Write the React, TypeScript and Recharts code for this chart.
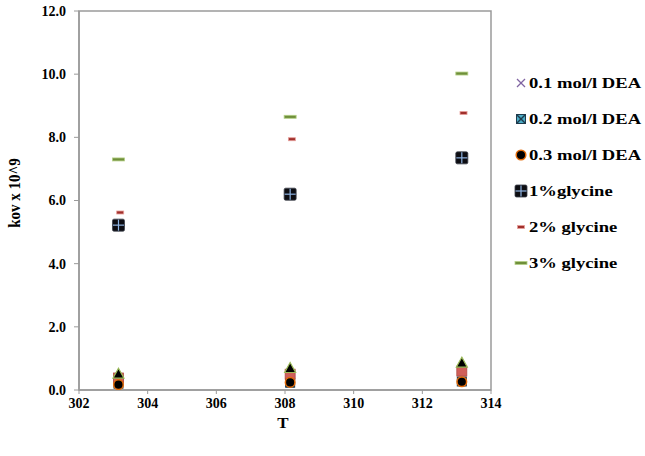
import React from 'react';
import { ScatterChart, Scatter, XAxis, YAxis, ReferenceArea, Legend } from 'recharts';

const temps = [303.15, 308.15, 313.15];
const temps2 = [303.2, 308.2, 313.2];
const dea01 = [0.2, 0.22, 0.26];
const dea02 = [0.2, 0.23, 0.27];
const dea03 = [0.17, 0.24, 0.26];
const gly1 = [5.22, 6.2, 7.35];
const gly2 = [5.62, 7.94, 8.77];
const gly3 = [7.3, 8.65, 10.02];
const extraTri = [0.5, 0.68, 0.85];
const extraSq = [0.38, 0.5, 0.6];
const xTicks = [302, 304, 306, 308, 310, 312, 314];
const yTicks = [0, 2, 4, 6, 8, 10, 12];
const legendNames = ['0.1 mol/l DEA', '0.2 mol/l DEA', '0.3 mol/l DEA', '1%glycine', '2% glycine', '3% glycine'];

const toPts = (xs: number[], ys: number[]) => xs.map((x, i) => ({ x, y: ys[i] }));

const FONT = '"Liberation Serif", "Times New Roman", serif';

type MP = { cx: number; cy: number };
const XMark = ({ cx, cy }: MP) => (
  <g stroke="#8064a2" strokeWidth={1.3}>
    <line x1={cx - 4} y1={cy - 4} x2={cx + 4} y2={cy + 4} />
    <line x1={cx - 4} y1={cy + 4} x2={cx + 4} y2={cy - 4} />
  </g>
);
const BoxX = ({ cx, cy }: MP) => (
  <g>
    <rect x={cx - 4.5} y={cy - 4.5} width={9} height={9} fill="#4bacc6" stroke="#1f3b4d" strokeWidth={1} />
    <line x1={cx - 4} y1={cy - 4} x2={cx + 4} y2={cy + 4} stroke="#1f3b4d" strokeWidth={1.5} />
    <line x1={cx - 4} y1={cy + 4} x2={cx + 4} y2={cy - 4} stroke="#1f3b4d" strokeWidth={1.5} />
  </g>
);
const Circ = ({ cx, cy }: MP) => <circle cx={cx} cy={cy} r={4.8} fill="#000" stroke="#e46c0a" strokeWidth={1.5} />;
const GlySq = ({ cx, cy }: MP) => (
  <g>
    <rect x={cx - 6} y={cy - 6} width={12} height={12} rx={1.5} fill="#0d0d12" stroke="#3a3f4a" strokeWidth={0.8} />
    <line x1={cx} y1={cy - 5.5} x2={cx} y2={cy + 5.5} stroke="#8fb4e3" strokeWidth={1.2} />
    <line x1={cx - 5.5} y1={cy} x2={cx + 5.5} y2={cy} stroke="#8fb4e3" strokeWidth={1.2} />
  </g>
);
const Dash2 = ({ cx, cy }: MP) => <rect x={cx - 3.5} y={cy - 1.5} width={7} height={3} fill="#a0302c" stroke="#e8a09c" strokeWidth={0.8} />;
const Dash3 = ({ cx, cy }: MP) => <rect x={cx - 6} y={cy - 1.5} width={12} height={3} fill="#6f8f3a" stroke="#b5d087" strokeWidth={0.8} />;
const Tri = ({ cx, cy }: MP) => (
  <polygon points={`${cx},${cy - 6} ${cx + 5.5},${cy + 4} ${cx - 5.5},${cy + 4}`} fill="#000" stroke="#9bbb59" strokeWidth={1.2} />
);
const RedSq = ({ cx, cy }: MP) => <rect x={cx - 5} y={cy - 5} width={10} height={10} fill="#d0605a" stroke="#b04a45" strokeWidth={0.8} />;

const legendIcons = [XMark, BoxX, Circ, GlySq, Dash2, Dash3];

const LegendContent = () => (
  <div style={{ fontFamily: FONT, fontWeight: 'bold', fontSize: 15, color: '#000' }}>
    {legendNames.map((n, i) => {
      const Icon = legendIcons[i];
      return (
        <div key={n} style={{ height: 36, display: 'flex', alignItems: 'center' }}>
          <svg width={14} height={14} style={{ display: 'block' }}>
            <Icon cx={7} cy={7} />
          </svg>
          <span style={{ display: 'inline-block', marginLeft: 1, transform: 'scaleX(1.24)', transformOrigin: 'left center', whiteSpace: 'nowrap' }}>{n}</span>
        </div>
      );
    })}
  </div>
);

const shapeOf = (C: React.ComponentType<MP>) => (p: any) => <C cx={p.cx} cy={p.cy} />;

export default function App() {
  const tickStyle = { fontFamily: FONT, fontWeight: 'bold' as const, fontSize: 14, fill: '#000' };
  return (
    <div style={{ position: 'absolute', left: 0, top: 0, width: 645, height: 456, background: '#fff' }}>
      <ScatterChart width={645} height={456} margin={{ top: 11, right: 154, bottom: 36, left: 0 }}>
        <ReferenceArea x1={302} x2={314} y1={0} y2={12} fill="none" stroke="#9a9a9a" strokeWidth={1.5} ifOverflow="visible" />
        <XAxis
          type="number"
          dataKey="x"
          domain={[302, 314]}
          ticks={xTicks}
          allowDataOverflow
          height={30}
          tick={tickStyle}
          tickSize={4}
          tickMargin={4}
          axisLine={{ stroke: '#9a9a9a', strokeWidth: 1.5 }}
          tickLine={{ stroke: '#9a9a9a' }}
        />
        <YAxis
          type="number"
          dataKey="y"
          domain={[0, 12]}
          ticks={yTicks}
          allowDataOverflow
          width={79}
          tick={tickStyle}
          tickFormatter={(v: number) => v.toFixed(1)}
          tickSize={5}
          tickMargin={8}
          axisLine={{ stroke: '#9a9a9a', strokeWidth: 1.5 }}
          tickLine={{ stroke: '#9a9a9a' }}
        />
        <Scatter name="0.1 mol/l DEA" data={toPts(temps, dea01)} shape={shapeOf(XMark)} isAnimationActive={false} />
        <Scatter name="0.2 mol/l DEA" data={toPts(temps, dea02)} shape={shapeOf(BoxX)} isAnimationActive={false} />
        <Scatter name="s8" data={toPts(temps, extraSq)} shape={shapeOf(RedSq)} legendType="none" isAnimationActive={false} />
        <Scatter name="s7" data={toPts(temps, extraTri)} shape={shapeOf(Tri)} legendType="none" isAnimationActive={false} />
        <Scatter name="0.3 mol/l DEA" data={toPts(temps, dea03)} shape={shapeOf(Circ)} isAnimationActive={false} />
        <Scatter name="1%glycine" data={toPts(temps, gly1)} shape={shapeOf(GlySq)} isAnimationActive={false} />
        <Scatter name="2% glycine" data={toPts(temps2, gly2)} shape={shapeOf(Dash2)} isAnimationActive={false} />
        <Scatter name="3% glycine" data={toPts(temps, gly3)} shape={shapeOf(Dash3)} isAnimationActive={false} />
        <Legend
          layout="vertical"
          align="center"
          verticalAlign="middle"
          content={<LegendContent />}
          wrapperStyle={{ left: 514, top: 65, width: 130, height: 216 }}
        />
      </ScatterChart>
      <div
        style={{
          position: 'absolute', left: 15, top: 193, fontFamily: FONT, fontWeight: 'bold', fontSize: 15,
          transform: 'translate(-50%, -50%) rotate(-90deg) scaleY(1.13)', whiteSpace: 'nowrap', color: '#000',
        }}
      >
        kov x 10^9
      </div>
      <div
        style={{
          position: 'absolute', left: 283, top: 423, fontFamily: FONT, fontWeight: 'bold', fontSize: 15,
          transform: 'translate(-50%, -50%) scaleX(1.13)', color: '#000',
        }}
      >
        T
      </div>
    </div>
  );
}
